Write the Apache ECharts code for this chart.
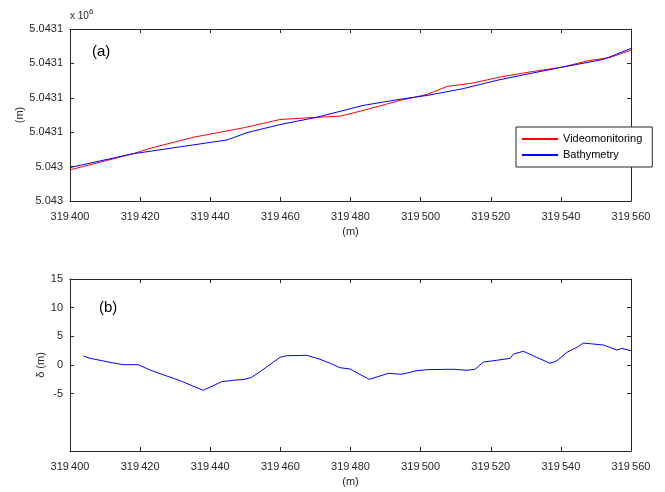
<!DOCTYPE html>
<html>
<head>
<meta charset="utf-8">
<script src="https://cdn.jsdelivr.net/npm/echarts@6/dist/echarts.min.js"></script>
<style>
  html, body { margin: 0; padding: 0; background: #fff; }
  #chart { width: 665px; height: 492px; }
</style>
</head>
<body>
<div id="chart"></div>
<script>
  // (a) shoreline positions, x in m, y in m
  var videoX = [319400, 319418, 319422.8, 319435.1, 319449.4, 319459.9, 319469.3, 319477.0, 319483.6, 319494.1,
                319501.9, 319507.6, 319515.0, 319522.7, 319531.2, 319540.7, 319547.5, 319554.1, 319560];
  var videoY = [5043049.06, 5043053.74, 5043055.29, 5043058.51, 5043061.26, 5043063.68, 5043064.27, 5043064.65, 5043066.32, 5043069.24,
                5043071.0, 5043073.33, 5043074.3, 5043076.05, 5043077.51, 5043078.98, 5043080.73, 5043081.73, 5043083.86];
  var bathyX = [319400, 319418, 319444.8, 319450.5, 319459.9, 319470.5, 319483.6, 319493.3, 319501.9, 319512.1,
                319521.8, 319531.2, 319540.7, 319552.1, 319560];
  var bathyY = [5043049.74, 5043053.74, 5043057.75, 5043059.88, 5043062.22, 5043064.36, 5043067.78, 5043069.44, 5043070.70, 5043072.66,
                5043075.09, 5043077.05, 5043078.98, 5043081.14, 5043084.36];
  var topYTickLabels = ['5.043', '5.043', '5.0431', '5.0431', '5.0431', '5.0431'];

  // (b) difference delta (m)
  var deltaX = [319403.8, 319405.7, 319411.4, 319415.2, 319419.5, 319422.8, 319427.6, 319431.4, 319438.0, 319443.3,
                319446.6, 319449.9, 319451.8, 319454.2, 319459.9, 319461.8, 319467.5, 319471.3, 319474.2, 319477.0,
                319479.9, 319482.7, 319485.4, 319490.8, 319494.6, 319498.9, 319501.7, 319507.5, 319509.4, 319513.2,
                319515.5, 319517.9, 319521.7, 319525.5, 319526.5, 319529.3, 319533.1, 319536.9, 319538.9, 319541.7,
                319544.6, 319546.4, 319548.4, 319552.2, 319556.0, 319557.4, 319560];
  var deltaY = [1.57, 1.17, 0.47, 0.05, 0.05, -0.87, -1.92, -2.74, -4.41, -2.91,
                -2.67, -2.49, -2.14, -1.17, 1.34, 1.62, 1.69, 0.99, 0.30, -0.47,
                -0.70, -1.66, -2.49, -1.45, -1.62, -0.99, -0.82, -0.75, -0.75, -0.92,
                -0.75, 0.52, 0.82, 1.17, 1.92, 2.39, 1.34, 0.30, 0.75, 2.21,
                3.08, 3.83, 3.71, 3.48, 2.61, 2.91, 2.49];
  var bottomYTicks = [-5, 0, 5, 10, 15];

  function pairs(xs, ys) {
    return xs.map(function (x, i) { return [x, ys[i]]; });
  }

  var font = 'Liberation Sans, Arial, sans-serif';
  var txt = '#262626';
  var axisLine = { show: true, onZero: false, lineStyle: { color: '#262626', width: 1 } };
  var tick = { show: true, inside: true, length: 4, lineStyle: { color: '#262626' } };

  function xFmt(v) {
    var s = String(v);
    return s.slice(0, 3) + '\u2009' + s.slice(3);
  }

  function xAxes(gi) {
    return [
      { type: 'value', gridIndex: gi, min: 319400, max: 319560, interval: 20,
        axisLine: axisLine, axisTick: tick, splitLine: { show: false },
        axisLabel: { color: txt, fontFamily: font, fontSize: 11, margin: 10, formatter: xFmt },
        name: '(m)', nameLocation: 'middle', nameGap: 25, nameMoveOverlap: false,
        nameTextStyle: { color: txt, fontFamily: font, fontSize: 11 } },
      { type: 'value', gridIndex: gi, position: 'top', min: 319400, max: 319560, interval: 20,
        axisLine: axisLine, axisTick: tick, splitLine: { show: false }, axisLabel: { show: false } }
    ];
  }

  var chart = echarts.init(document.getElementById('chart'), null, { renderer: 'canvas' });
  chart.setOption({
    animation: false,
    backgroundColor: '#fff',
    grid: [
      { left: 70, right: 34, top: 29, height: 172 },
      { left: 70, right: 34, top: 279, height: 172 }
    ],
    legend: {
      data: ['Videomonitoring', 'Bathymetry'],
      orient: 'vertical',
      left: 516, top: 127,
      padding: [5, 10, 5, 6],
      itemGap: 2,
      itemWidth: 36, itemHeight: 2,
      icon: 'rect',
      backgroundColor: '#fff',
      borderColor: '#262626', borderWidth: 1,
      textStyle: { color: '#000', fontFamily: font, fontSize: 11, lineHeight: 14 }
    },
    xAxis: xAxes(0).concat(xAxes(1)),
    yAxis: [
      { type: 'value', gridIndex: 0, min: 5043040, max: 5043090, interval: 10,
        axisLine: axisLine, axisTick: tick, splitLine: { show: false },
        axisLabel: { color: txt, fontFamily: font, fontSize: 11, margin: 7,
          formatter: function (v, i) { return topYTickLabels[i]; } },
        name: '(m)', nameLocation: 'middle', nameGap: 45, nameMoveOverlap: false,
        nameTextStyle: { color: txt, fontFamily: font, fontSize: 11 } },
      { type: 'value', gridIndex: 0, position: 'right', min: 5043040, max: 5043090, interval: 10,
        axisLine: axisLine, axisTick: tick, splitLine: { show: false }, axisLabel: { show: false } },
      { type: 'value', gridIndex: 1, min: -15, max: 15, interval: 5,
        axisLine: axisLine, axisTick: Object.assign({ customValues: bottomYTicks }, tick), splitLine: { show: false },
        axisLabel: { color: txt, fontFamily: font, fontSize: 11, margin: 7, customValues: bottomYTicks },
        name: '\u03b4 (m)', nameLocation: 'middle', nameGap: 24, nameMoveOverlap: false,
        nameTextStyle: { color: txt, fontFamily: font, fontSize: 11 } },
      { type: 'value', gridIndex: 1, position: 'right', min: -15, max: 15, interval: 5,
        axisLine: axisLine, axisTick: Object.assign({ customValues: bottomYTicks }, tick), splitLine: { show: false },
        axisLabel: { show: false } }
    ],
    graphic: [
      { type: 'text', left: 70, top: 8, style: {
          text: 'x 10{s|6}', fill: txt, font: '10px ' + font,
          rich: { s: { fontSize: 8, verticalAlign: 'top', padding: [0, 0, 8, 0] } } } },
      { type: 'text', left: 92, top: 44, style: { text: '(a)', fill: '#000', font: '15px ' + font } },
      { type: 'text', left: 99, top: 300, style: { text: '(b)', fill: '#000', font: '15px ' + font } }
    ],
    series: [
      { name: 'Videomonitoring', type: 'line', xAxisIndex: 0, yAxisIndex: 0, data: pairs(videoX, videoY),
        showSymbol: false, symbol: 'none', color: '#ff0000', lineStyle: { width: 1, color: '#ff0000' } },
      { name: 'Bathymetry', type: 'line', xAxisIndex: 0, yAxisIndex: 0, data: pairs(bathyX, bathyY),
        showSymbol: false, symbol: 'none', color: '#0000ff', lineStyle: { width: 1, color: '#0000ff' } },
      { name: 'delta', type: 'line', xAxisIndex: 2, yAxisIndex: 2, data: pairs(deltaX, deltaY),
        showSymbol: false, symbol: 'none', color: '#0000ff', lineStyle: { width: 1, color: '#0000ff' } }
    ]
  });
</script>
</body>
</html>
